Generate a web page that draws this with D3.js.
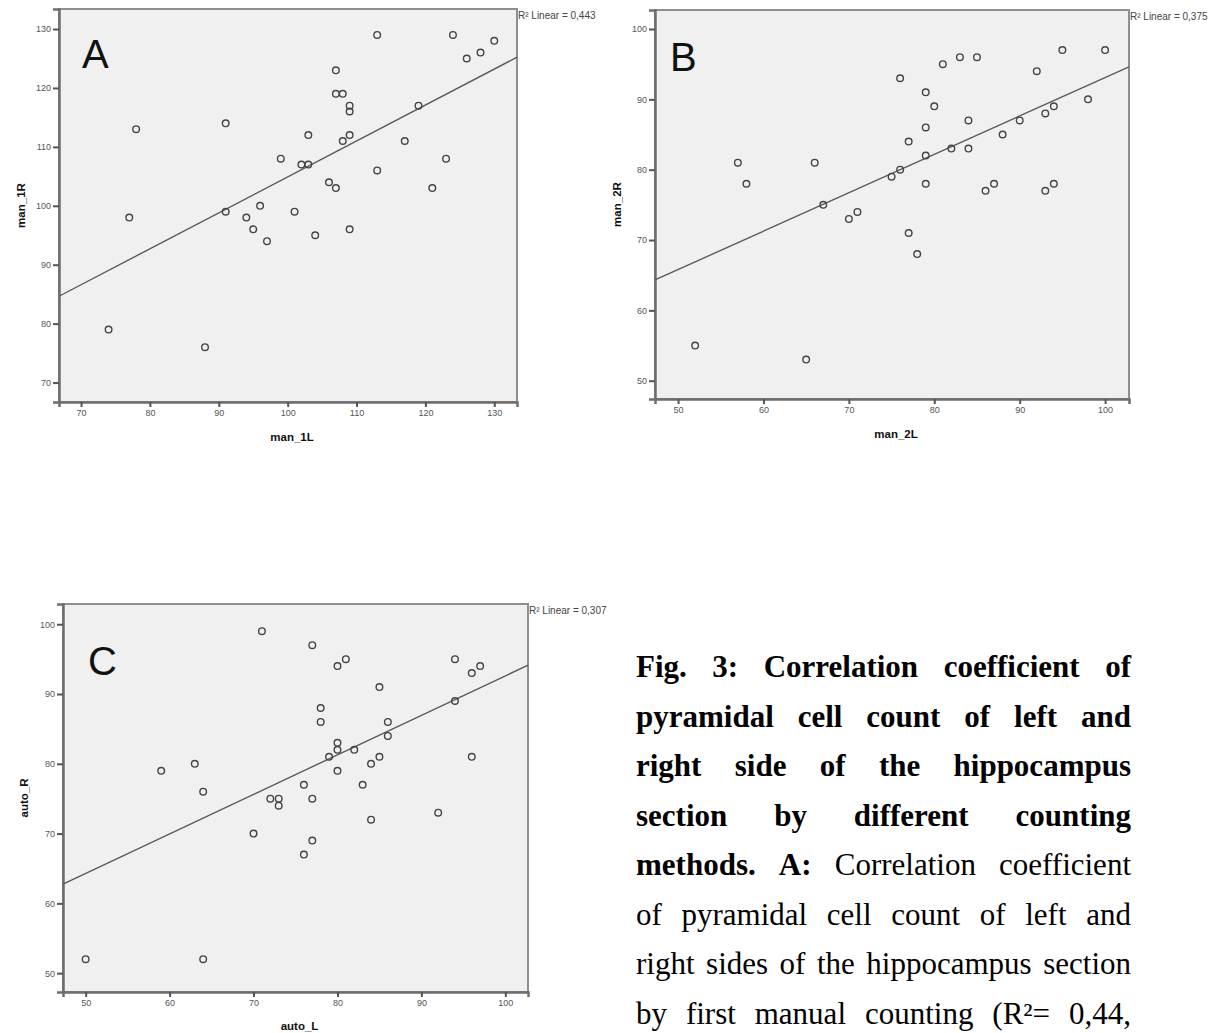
<!DOCTYPE html>
<html>
<head>
<meta charset="utf-8">
<script src="https://cdnjs.cloudflare.com/ajax/libs/d3/7.8.5/d3.min.js"></script>
<style>
  body { margin: 0; background: #fff; }
  svg { display: block; }
  .tick-label { font-family: "Liberation Sans", Arial, sans-serif; font-size: 9px; fill: #555; }
  .axis-title { font-family: "Liberation Sans", Arial, sans-serif; font-size: 11.5px; font-weight: bold; fill: #111; }
  .r2 { font-family: "Liberation Sans", Arial, sans-serif; font-size: 10px; fill: #444; }
  .panel-letter { font-family: "Liberation Sans", Arial, sans-serif; font-size: 40px; fill: #111; }
  .caption { font-family: "Liberation Serif", "Times New Roman", serif; font-size: 31px; fill: #000; }
</style>
</head>
<body>
<script>
// panel A - first manual counting (left vs right)
var man1L = [74, 77, 78, 88, 91, 91, 94, 95, 96, 97, 99, 101, 102, 103, 103, 104, 106, 107, 107, 107,
             108, 108, 109, 109, 109, 109, 113, 113, 117, 119, 121, 123, 124, 126, 128, 130];
var man1R = [79, 98, 113, 76, 99, 114, 98, 96, 100, 94, 108, 99, 107, 107, 112, 95, 104, 103, 123, 119,
             119, 111, 117, 116, 112, 96, 129, 106, 111, 117, 103, 108, 129, 125, 126, 128];

// panel B - second manual counting
var man2L = [52, 57, 58, 65, 66, 67, 70, 71, 75, 76, 76, 77, 77, 78, 79, 79, 79, 79, 80, 81,
             82, 83, 84, 84, 85, 86, 87, 88, 90, 92, 93, 93, 94, 94, 95, 98, 100];
var man2R = [55, 81, 78, 53, 81, 75, 73, 74, 79, 80, 93, 84, 71, 68, 91, 86, 82, 78, 89, 95,
             83, 96, 87, 83, 96, 77, 78, 85, 87, 94, 88, 77, 89, 78, 97, 90, 97];

// panel C - automatic counting
var autoL = [50, 59, 63, 64, 64, 70, 71, 72, 73, 73, 76, 76, 77, 77, 77, 78, 78, 79, 80, 80,
             80, 80, 81, 82, 83, 84, 84, 85, 85, 86, 86, 92, 94, 94, 96, 96, 97];
var autoR = [52, 79, 80, 76, 52, 70, 99, 75, 75, 74, 77, 67, 97, 75, 69, 88, 86, 81, 94, 83,
             82, 79, 95, 82, 77, 80, 72, 91, 81, 86, 84, 73, 95, 89, 93, 81, 94];

// linear fit lines and R2 labels
var fitIntercept = [43.9, 38.5, 36.0];
var fitSlope = [0.61, 0.546, 0.566];
var r2Labels = ["0,443", "0,375", "0,307"];

var ticksA = [70, 80, 90, 100, 110, 120, 130];
var ticksB = [50, 60, 70, 80, 90, 100];
var ticksC = [50, 60, 70, 80, 90, 100];

var letters = ["A", "B", "C"];
var xTitles = ["man_1L", "man_2L", "auto_L"];
var yTitles = ["man_1R", "man_2R", "auto_R"];

var captionLines = [
    {bold: "Fig. 3: Correlation coefficient of", normal: ""},
    {bold: "pyramidal cell count of left and", normal: ""},
    {bold: "right side of the hippocampus", normal: ""},
    {bold: "section by different counting", normal: ""},
    {bold: "methods. A:", normal: "Correlation coefficient"},
    {bold: "", normal: "of pyramidal cell count of left and"},
    {bold: "", normal: "right sides of the hippocampus section"},
    {bold: "", normal: "by first manual counting (R\u00b2= 0,44,"}
];

var width = 1228,
    height = 1033;

var svg = d3.select("body").append("svg")
    .attr("width", width)
    .attr("height", height);

svg.append("rect").attr("width", width).attr("height", height).attr("fill", "#fff");

// layout of the three scatter plots
var panels = [
    {x0: 59, x1: 517, y0: 9, y1: 402, xd: [66.8, 133.3], yd: [66.7, 133.4], ticks: ticksA,
     xs: man1L, ys: man1R, letterX: 82, letterY: 68, xTitleY: 441, yTitleX: 25},
    {x0: 655, x1: 1129, y0: 10, y1: 399, xd: [47.3, 102.8], yd: [47.4, 102.7], ticks: ticksB,
     xs: man2L, ys: man2R, letterX: 670, letterY: 71, xTitleY: 438, yTitleX: 621},
    {x0: 63, x1: 528, y0: 604, y1: 992, xd: [47.3, 102.7], yd: [47.3, 102.9], ticks: ticksC,
     xs: autoL, ys: autoR, letterX: 88, letterY: 675, xTitleY: 1030, yTitleX: 28}
];

panels.forEach(function(p, i) {
    var x = d3.scaleLinear().domain(p.xd).range([p.x0, p.x1]);
    var y = d3.scaleLinear().domain(p.yd).range([p.y1, p.y0]);
    var g = svg.append("g");

    // plot area
    g.append("rect")
        .attr("x", p.x0).attr("y", p.y0)
        .attr("width", p.x1 - p.x0).attr("height", p.y1 - p.y0)
        .attr("fill", "#f0f0f0")
        .attr("stroke", "#8f8f8f")
        .attr("stroke-width", 2);

    // axes
    var xAxis = d3.axisBottom(x).tickValues(p.ticks).tickSize(5).tickPadding(3);
    var yAxis = d3.axisLeft(y).tickValues(p.ticks).tickSize(6).tickPadding(2);

    var gx = g.append("g").attr("transform", "translate(0," + p.y1 + ")").call(xAxis);
    var gy = g.append("g").attr("transform", "translate(" + p.x0 + ",0)").call(yAxis);

    [gx, gy].forEach(function(a) {
        a.select(".domain").attr("stroke", "#6e6e6e").attr("stroke-width", 2.5);
        a.selectAll(".tick line").attr("stroke", "#555").attr("stroke-width", 2);
        a.selectAll(".tick text").attr("class", "tick-label").attr("font-family", null).attr("font-size", null);
    });

    // regression line
    g.append("line")
        .attr("x1", x(p.xd[0])).attr("y1", y(fitIntercept[i] + fitSlope[i] * p.xd[0]))
        .attr("x2", x(p.xd[1])).attr("y2", y(fitIntercept[i] + fitSlope[i] * p.xd[1]))
        .attr("stroke", "#5a5a5a")
        .attr("stroke-width", 1.4);

    // points
    g.selectAll("circle.pt")
        .data(d3.zip(p.xs, p.ys))
        .enter().append("circle")
        .attr("class", "pt")
        .attr("cx", function(d) { return x(d[0]); })
        .attr("cy", function(d) { return y(d[1]); })
        .attr("r", 3.3)
        .attr("fill", "none")
        .attr("stroke", "#444")
        .attr("stroke-width", 1.4);

    // panel letter
    g.append("text")
        .attr("class", "panel-letter")
        .attr("x", p.letterX).attr("y", p.letterY)
        .text(letters[i]);

    // R2 label
    g.append("text")
        .attr("class", "r2")
        .attr("x", p.x1 + 1).attr("y", p.y0 + 10)
        .text("R\u00b2 Linear = " + r2Labels[i]);

    // axis titles
    g.append("text")
        .attr("class", "axis-title")
        .attr("x", (p.x0 + p.x1) / 2 + 4).attr("y", p.xTitleY)
        .attr("text-anchor", "middle")
        .text(xTitles[i]);

    g.append("text")
        .attr("class", "axis-title")
        .attr("transform", "translate(" + p.yTitleX + "," + ((p.y0 + p.y1) / 2) + ") rotate(-90)")
        .attr("text-anchor", "middle")
        .text(yTitles[i]);
});

// justified caption on the right
var capLeft = 636,
    capRight = 1131,
    capTop = 677,
    capStep = 49.5;

var cap = svg.append("g");

captionLines.forEach(function(line, li) {
    var words = [];
    line.bold.split(" ").filter(Boolean).forEach(function(w) { words.push({text: w, bold: true}); });
    line.normal.split(" ").filter(Boolean).forEach(function(w) { words.push({text: w, bold: false}); });

    var yy = capTop + li * capStep;
    var items = words.map(function(w) {
        var t = cap.append("text")
            .attr("class", "caption")
            .attr("y", yy)
            .style("font-weight", w.bold ? "bold" : "normal")
            .text(w.text);
        return {el: t, w: t.node().getComputedTextLength()};
    });
    var total = d3.sum(items, function(d) { return d.w; });
    var gap = (capRight - capLeft - total) / (items.length - 1);
    var xx = capLeft;
    items.forEach(function(d) {
        d.el.attr("x", xx);
        xx += d.w + gap;
    });
});
</script>
</body>
</html>
